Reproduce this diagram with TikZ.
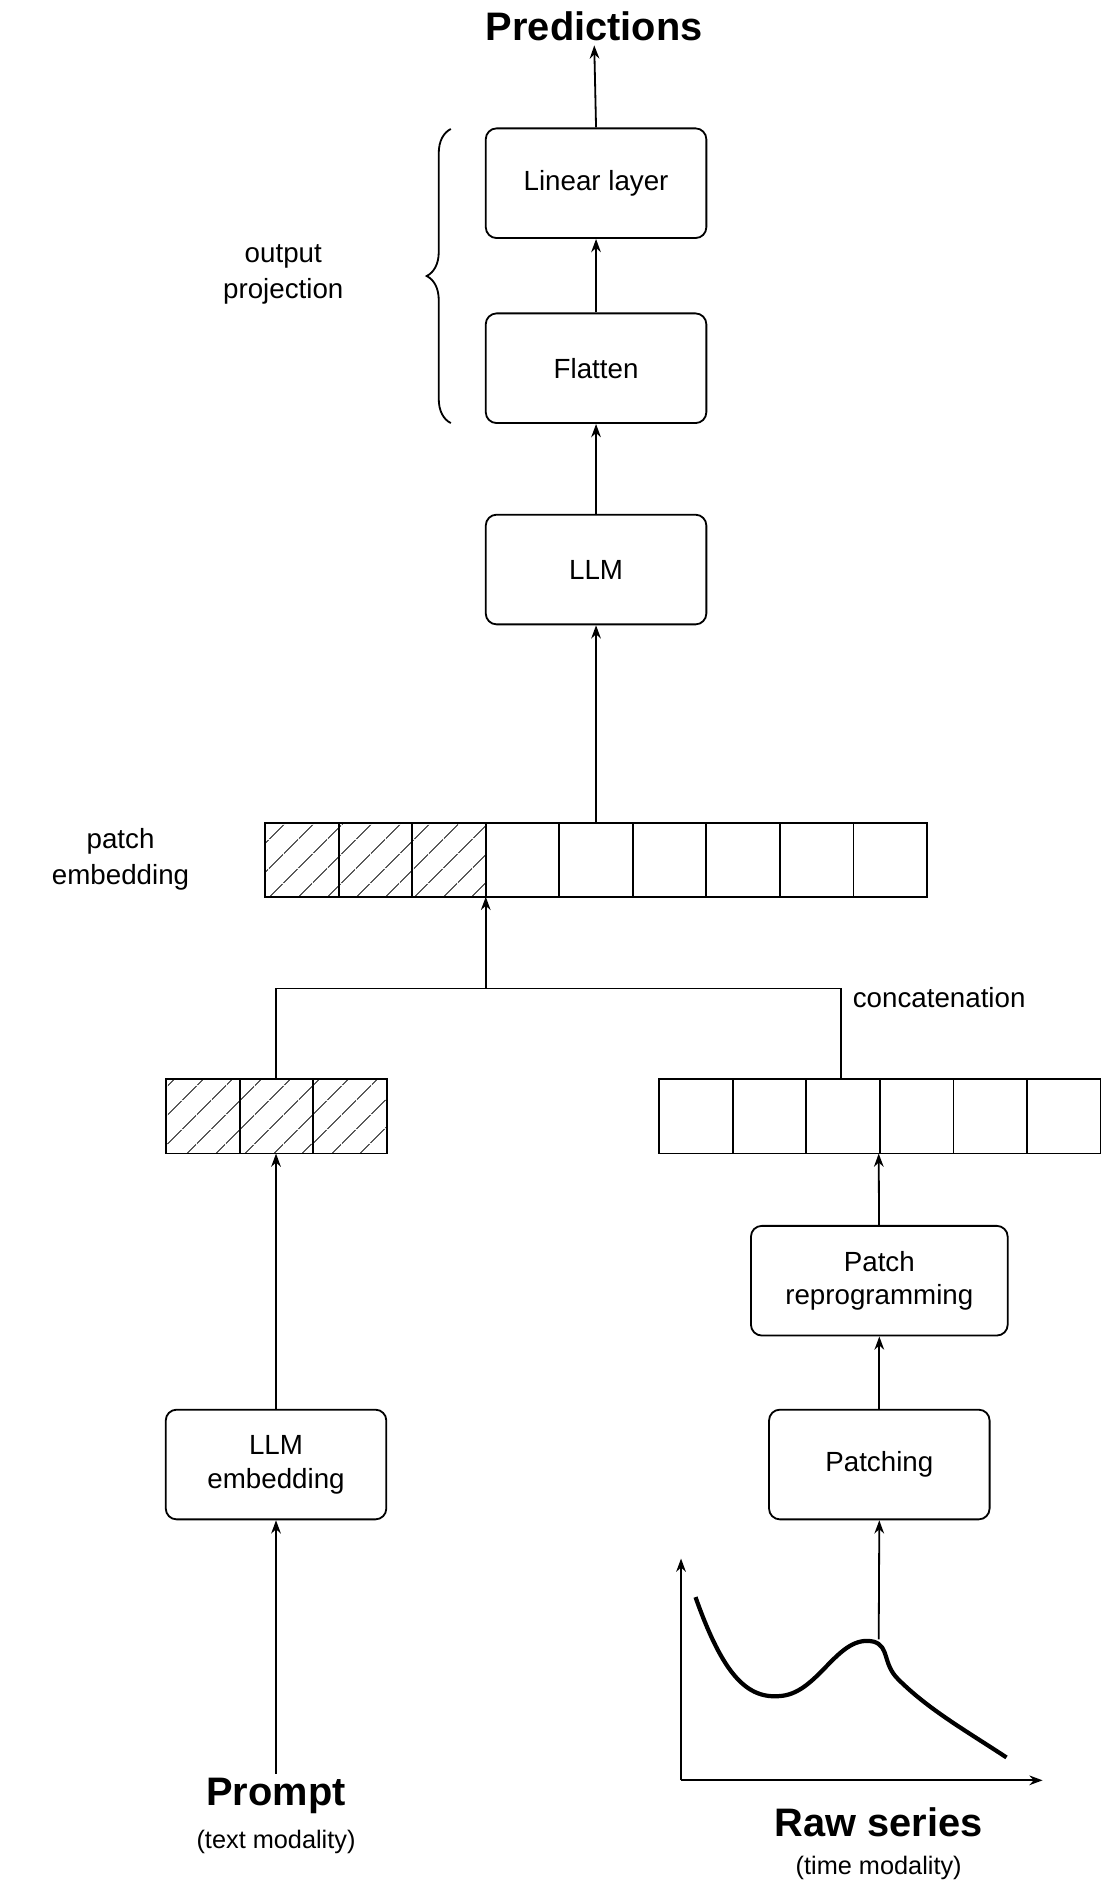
\documentclass[tikz,border=0pt]{standalone}
\usepackage{fontspec}
\setmainfont{Liberation Sans}
\usetikzlibrary{arrows.meta,patterns.meta,decorations.pathreplacing}
\begin{document}
\begin{tikzpicture}[x=1pt,y=-1pt,
  box/.style={draw,rounded corners=9pt,line width=1.5pt,minimum width=183pt,minimum height=91pt,align=center,font=\fontsize{23}{28}\selectfont},
  arr/.style={-{Stealth[length=11pt,width=8pt]},line width=1.5pt},
  cell/.style={draw,line width=1.5pt},
  hat/.style={cell,pattern={Lines[angle=45,distance=17pt,line width=0.9pt]}},
  lbl/.style={font=\fontsize{23}{30}\selectfont,align=center},
  big/.style={font=\bfseries\fontsize{33}{37}\selectfont}]
\useasboundingbox (0,0) rectangle (913,1568);
\node[big] (pred) at (493,22) {Predictions};
\node[box] (lin) at (494.5,152) {Linear layer};
\node[box] (fl) at (494.5,305.5) {Flatten};
\node[box] (llm) at (494.5,472.5) {LLM};
\draw[arr] (lin.north) -- (pred.south);
\draw[arr] (fl) -- (lin);
\draw[arr] (llm) -- (fl);
\draw[line width=1.5pt,decorate,decoration={brace,amplitude=20pt}] (374,351) -- (374,107) coordinate[midway] (br);
\node[lbl] (op) at (235,228) {output\\projection};
% patch embedding
\foreach \i in {0,1,2} \draw[hat] (220+61*\i,683) rectangle ++(61,61);
\foreach \i in {3,...,8} \draw[cell] (220+61*\i,683) rectangle ++(61,61);
\coordinate (pe) at (494.5,683);
\coordinate (pej) at (403,744);
\node[lbl] (pel) at (100,713) {patch\\embedding};
\draw[arr] (pe) -- (llm.south);
% concat
\coordinate (cj) at (403,820);
\coordinate (cl) at (229,820);
\coordinate (cr) at (698,820);
\coordinate (lt) at (229,895);
\coordinate (rt) at (698,895);
\draw[line width=1.5pt] (lt) -- (cl) -- (cr) -- (rt);
\draw[arr] (cj) -- (pej);
\node[lbl,anchor=west] (cc) at (704,828) {concatenation};
% left row
\foreach \i in {0,1,2} \draw[hat] (138+61*\i,895) rectangle ++(61,62);
\coordinate (lb) at (229,957);
% right row
\foreach \i in {0,...,5} \draw[cell] (547+61*\i,895) rectangle ++(61,62);
\coordinate (rb) at (729,957);
\node[box] (emb) at (229,1215) {LLM\\embedding};
\draw[arr] (emb) -- (lb);
\node[big] (prompt) at (229,1490) {Prompt};
\node[lbl,font=\fontsize{21}{26}\selectfont] (pm) at (229,1528) {(text modality)};
\draw[arr] (prompt.north) -- (emb.south);
\node[box,minimum width=213pt] (rep) at (729.5,1062.5) {Patch\\reprogramming};
\draw[arr] (rep) -- (rb);
\node[box] (pat) at (729.5,1215) {Patching};
\draw[arr] (pat) -- (rep);
\coordinate (cs) at (729,1360);
\draw[arr] (cs) -- (pat.south);
% axes
\coordinate (o) at (565,1477);
\coordinate (ya) at (565,1293);
\coordinate (xa) at (865,1477);
\draw[arr] (o) -- (ya);
\draw[arr] (o) -- (xa);
\draw[line width=3.5pt] (577,1325) .. controls (600,1390) and (620,1410) .. (648,1407)
  .. controls (680,1404) and (695,1355) .. (725,1362)
  .. controls (738,1366) and (732,1380) .. (745,1393)
  .. controls (770,1418) and (800,1435) .. (835,1458);
\node[big] (raw) at (729,1512) {Raw series};
\node[lbl,font=\fontsize{21}{26}\selectfont] (tm) at (729,1550) {(time modality)};
\end{tikzpicture}
\end{document}
